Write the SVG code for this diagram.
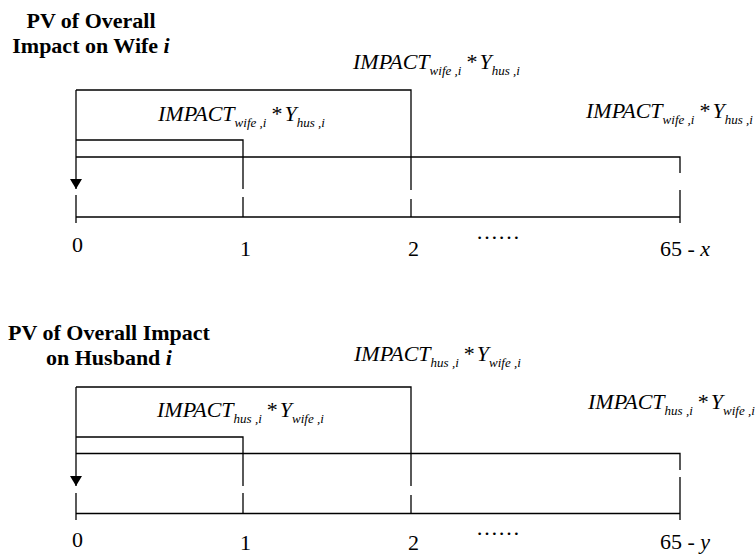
<svg xmlns="http://www.w3.org/2000/svg" width="756" height="554" viewBox="0 0 756 554">
<style>
text{font-family:"Liberation Serif","DejaVu Serif","Noto Serif","Times New Roman",Times,serif;fill:#000}
.title{font-size:22px;font-weight:bold;text-anchor:middle}
.eq{font-size:22px;font-style:italic}
.sub{font-size:13px}
.op{font-style:normal}
.num{font-size:22px}
.ln{stroke:#000;stroke-width:1.3;fill:none}
</style>
<defs>
<marker id="arr" viewBox="0 0 10 12" refX="10" refY="6" markerWidth="10" markerHeight="12" markerUnits="userSpaceOnUse" orient="auto">
<path d="M0,0 L10,6 L0,12 z" fill="#000"/>
</marker>
</defs>

<!-- Wife diagram -->
<g id="wife-title" font-family="Liberation Serif, serif"><text class="title" x="91" y="28">PV of Overall</text><text class="title" x="91" y="53">Impact on Wife <tspan font-style="italic">i</tspan></text></g>
<g id="wife-label-top"><text class="eq" x="353" y="69">IMPACT<tspan class="sub" dy="5.5">wife ,i</tspan><tspan class="op" dy="-5.5" dx="5">*</tspan><tspan dx="2">Y</tspan><tspan class="sub" dy="5.5">hus ,i</tspan></text></g>
<g id="wife-label-inner"><text class="eq" x="158" y="121">IMPACT<tspan class="sub" dy="5.5">wife ,i</tspan><tspan class="op" dy="-5.5" dx="5">*</tspan><tspan dx="2">Y</tspan><tspan class="sub" dy="5.5">hus ,i</tspan></text></g>
<g id="wife-label-right"><text class="eq" x="586" y="118">IMPACT<tspan class="sub" dy="5.5">wife ,i</tspan><tspan class="op" dy="-5.5" dx="5">*</tspan><tspan dx="2">Y</tspan><tspan class="sub" dy="5.5">hus ,i</tspan></text></g>
<g id="wife-axis-labels">
<text class="num" x="77.5" y="252" text-anchor="middle">0</text>
<text class="num" x="245.5" y="256" text-anchor="middle">1</text>
<text class="num" x="413.5" y="256" text-anchor="middle">2</text>
<text class="num" x="476" y="239">……</text>
<text class="num" x="660" y="256">65 - <tspan font-style="italic">x</tspan></text>
</g>
<g id="wife-connectors" class="ln">
<line x1="76" y1="90" x2="76" y2="189" marker-end="url(#arr)"/>
<polyline points="76,90 411,90 411,190"/>
<polyline points="76,140 243,140 243,189"/>
<polyline points="76,157 680,157 680,173"/>
<line x1="76" y1="217" x2="680" y2="217"/>
<line x1="76" y1="195" x2="76" y2="223"/>
<line x1="243" y1="197" x2="243" y2="217"/>
<line x1="411" y1="199" x2="411" y2="217"/>
<line x1="680" y1="190" x2="680" y2="223"/>
</g>

<!-- Husband diagram -->
<g id="husband-title"><text class="title" x="109" y="340">PV of Overall Impact</text><text class="title" x="109" y="365">on Husband <tspan font-style="italic">i</tspan></text></g>
<g id="husband-label-top"><text class="eq" x="354" y="361">IMPACT<tspan class="sub" dy="5.5">hus ,i</tspan><tspan class="op" dy="-5.5" dx="5">*</tspan><tspan dx="2">Y</tspan><tspan class="sub" dy="5.5">wife ,i</tspan></text></g>
<g id="husband-label-inner"><text class="eq" x="157" y="417">IMPACT<tspan class="sub" dy="5.5">hus ,i</tspan><tspan class="op" dy="-5.5" dx="5">*</tspan><tspan dx="2">Y</tspan><tspan class="sub" dy="5.5">wife ,i</tspan></text></g>
<g id="husband-label-right"><text class="eq" x="588" y="409">IMPACT<tspan class="sub" dy="5.5">hus ,i</tspan><tspan class="op" dy="-5.5" dx="5">*</tspan><tspan dx="2">Y</tspan><tspan class="sub" dy="5.5">wife ,i</tspan></text></g>
<g id="husband-axis-labels">
<text class="num" x="77.5" y="547" text-anchor="middle">0</text>
<text class="num" x="245.5" y="550" text-anchor="middle">1</text>
<text class="num" x="413.5" y="550" text-anchor="middle">2</text>
<text class="num" x="476" y="535">……</text>
<text class="num" x="660" y="549">65 - <tspan font-style="italic">y</tspan></text>
</g>
<g id="husband-connectors" class="ln">
<line x1="76" y1="387" x2="76" y2="486" marker-end="url(#arr)"/>
<polyline points="76,387 411,387 411,486"/>
<polyline points="76,437 243,437 243,486"/>
<polyline points="76,453.5 680,453.5 680,470"/>
<line x1="76" y1="513.5" x2="680" y2="513.5"/>
<line x1="76" y1="493" x2="76" y2="520"/>
<line x1="243" y1="493" x2="243" y2="513.5"/>
<line x1="411" y1="495" x2="411" y2="513.5"/>
<line x1="680" y1="477" x2="680" y2="520"/>
</g>
</svg>
